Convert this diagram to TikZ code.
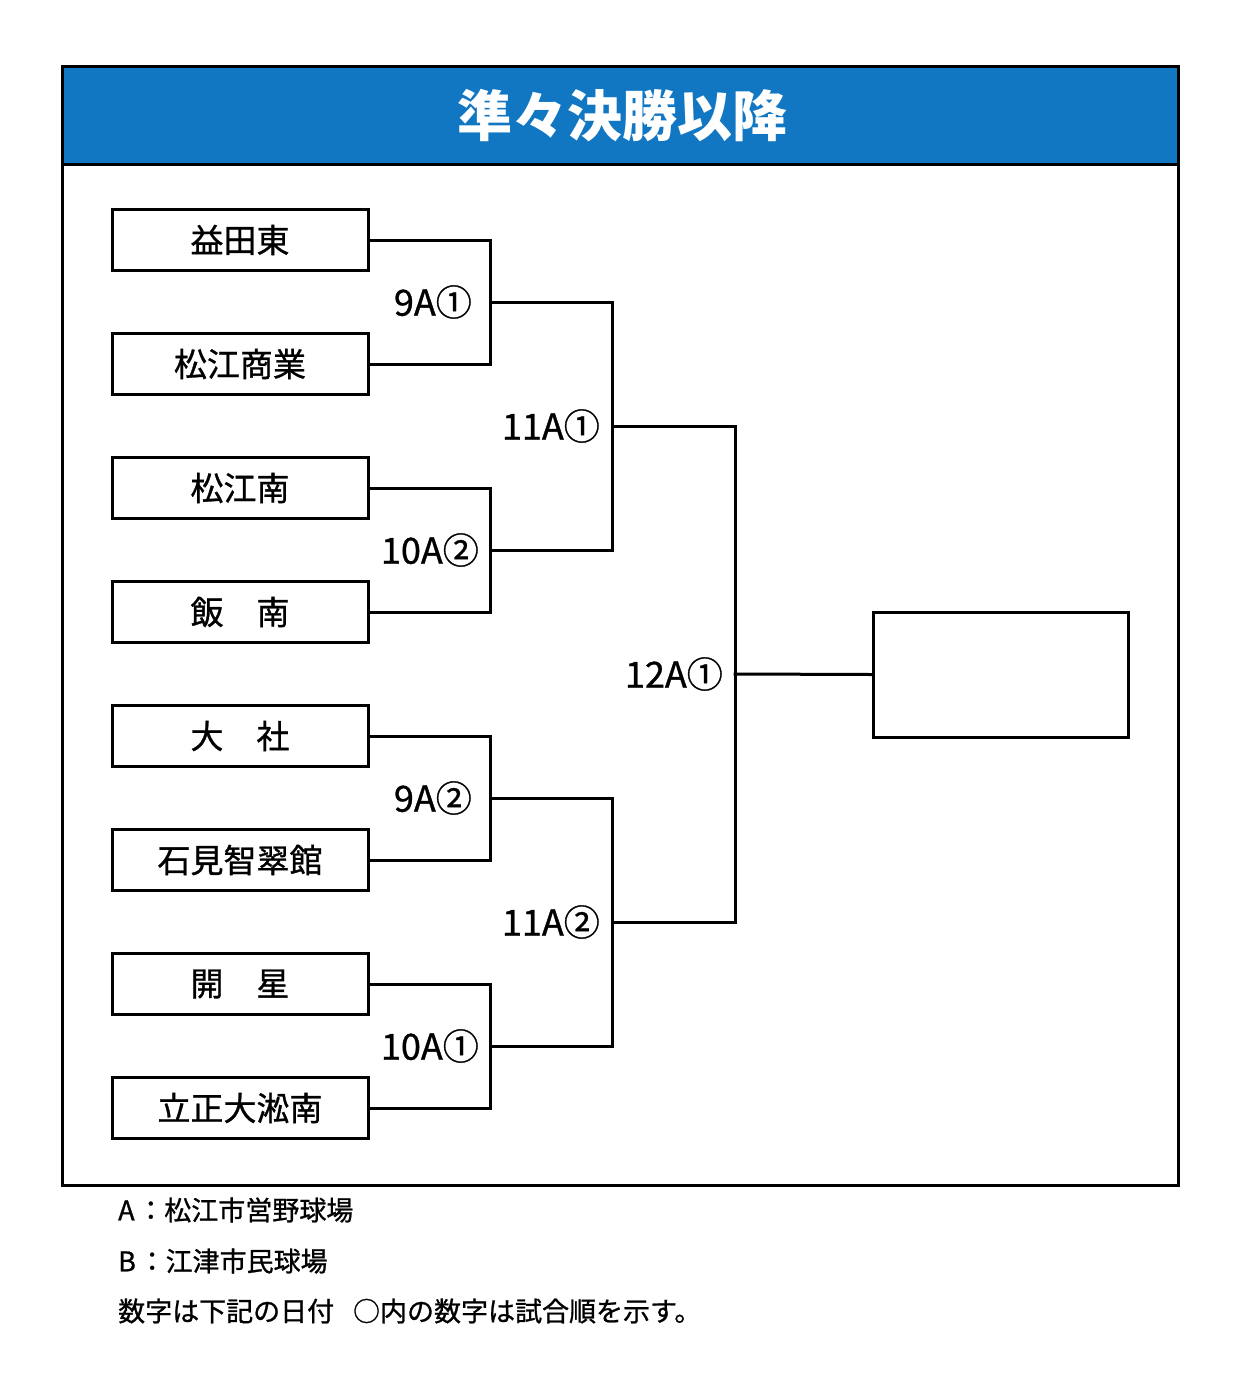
\documentclass[tikz,border=0pt]{standalone}
\usepackage{fontspec}
\setmainfont{Noto Sans CJK JP}
\newfontfamily\medfont{Noto Sans CJK JP}[FakeBold=0.9]
\definecolor{titleblue}{HTML}{1177C3}
\begin{document}
\begin{tikzpicture}[x=1pt,y=-1pt,
  team/.style={draw,line width=3pt,minimum width=256pt,minimum height=61pt,inner sep=0pt,font=\medfont\fontsize{33}{33}\selectfont},
  wire/.style={line width=3pt,line join=miter,line cap=rect},
  lab/.style={anchor=east,inner sep=0pt,font=\medfont\fontsize{36}{36}\selectfont},
  foot/.style={anchor=west,inner sep=0pt,font=\medfont\fontsize{27}{27}\selectfont}]
\fill[white] (0,0) rectangle (1250,1390);
\useasboundingbox (0,0) rectangle (1250,1390);
% frame and title
\draw[line width=3pt,fill=titleblue] (62,66) rectangle (1178,164);
\draw[line width=3pt] (62,66) rectangle (1178,1185);
\node[text=white,font=\fontsize{55}{55}\selectfont\bfseries] (title) at (622,116) {準々決勝以降};
% teams
\node[team] (t1) at (240,240) {益田東};
\node[team] (t2) at (240,364) {松江商業};
\node[team] (t3) at (240,488) {松江南};
\node[team] (t4) at (240,612) {飯\hspace{1em}南};
\node[team] (t5) at (240,736) {大\hspace{1em}社};
\node[team] (t6) at (240,860) {石見智翠館};
\node[team] (t7) at (240,984) {開\hspace{1em}星};
\node[team] (t8) at (240,1108) {立正大淞南};
\node[draw,line width=3pt,minimum width=255pt,minimum height=125pt,inner sep=0pt] (w) at (1000.5,674.5) {};
% junctions
\coordinate (j1) at (490,302);
\coordinate (j2) at (490,550);
\coordinate (j3) at (490,798);
\coordinate (j4) at (490,1046);
\coordinate (k1) at (612,302);
\coordinate (k2) at (612,550);
\coordinate (k3) at (612,798);
\coordinate (k4) at (612,1046);
\coordinate (m1) at (612,426);
\coordinate (m2) at (612,922);
\coordinate (n1) at (735,426);
\coordinate (n2) at (735,922);
\coordinate (f) at (735,674);
% wires
\draw[wire] (t1.east) -| (j1) |- (t2.east);
\draw[wire] (t3.east) -| (j2) |- (t4.east);
\draw[wire] (t5.east) -| (j3) |- (t6.east);
\draw[wire] (t7.east) -| (j4) |- (t8.east);
\draw[wire] (j1) -- (k1) -- (k2) -- (j2);
\draw[wire] (j3) -- (k3) -- (k4) -- (j4);
\draw[wire] (m1) -- (n1) -- (n2) -- (m2);
\draw[wire] (f) -- (w.west);
% labels
\node[lab] (l1) at (472,302) {9A①};
\node[lab] (l2) at (479,550) {10A②};
\node[lab] (l3) at (472,798) {9A②};
\node[lab] (l4) at (479,1046) {10A①};
\node[lab] (l5) at (600,426) {11A①};
\node[lab] (l6) at (600,922) {11A②};
\node[lab] (l7) at (723,674) {12A①};
% footer
\node[foot] (a) at (118,1210) {A\hspace{0.1em}：松江市営野球場};
\node[foot] (b) at (118,1261) {B\hspace{0.1em}：江津市民球場};
\node[foot] (c) at (118,1311) {数字は下記の日付\hspace{0.7em}○内の数字は試合順を示す。};
\end{tikzpicture}
\end{document}
